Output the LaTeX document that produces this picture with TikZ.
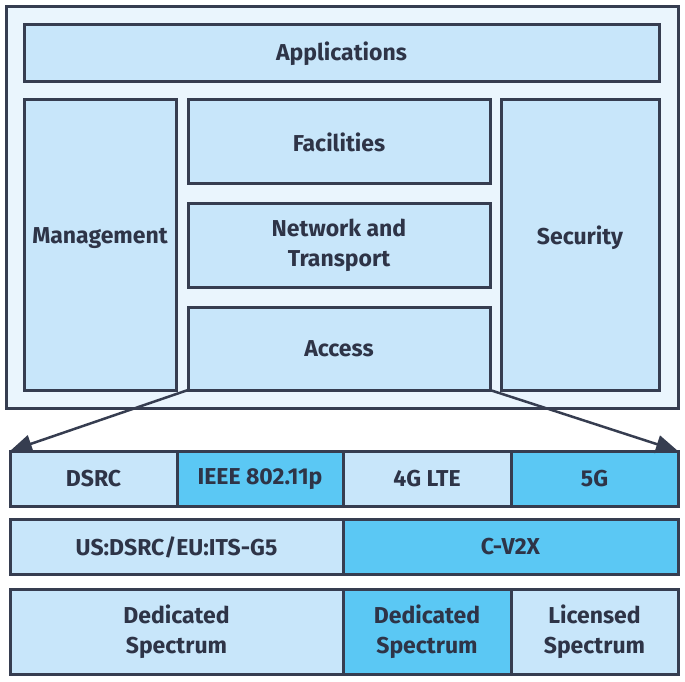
\documentclass[tikz,border=0pt]{standalone}
\usepackage{fontspec}
\setmainfont{Fira Sans}
\usetikzlibrary{arrows.meta}
\definecolor{bord}{HTML}{363D50}
\definecolor{txt}{HTML}{2E3447}
\definecolor{pale}{HTML}{EAF5FD}
\definecolor{lite}{HTML}{C8E6FA}
\definecolor{bright}{HTML}{5BC8F4}
\begin{document}
\begin{tikzpicture}[x=1pt,y=-1pt,
  box/.style={draw=bord,line width=3pt,fill=lite},
  bbox/.style={draw=bord,line width=3pt,fill=bright},
  lbl/.style={text=txt,font=\bfseries\fontsize{23}{30}\selectfont,align=center},
  conn/.style={draw=bord,line width=2.5pt,-{Triangle[length=22pt,width=18pt]}}]
\useasboundingbox (0,0) rectangle (685,681);
\draw[draw=bord,line width=3pt,fill=pale] (6.5,6.5) rectangle (678,408.5);
\draw[box] (24,24) rectangle (659,81);
\node[lbl] (app) at (341.5,53.5) {Applications};
\draw[box] (24,99) rectangle (176,390);
\node[lbl] (mgmt) at (100,238) {Management};
\draw[box] (188,99) rectangle (490,183);
\node[lbl] (fac) at (339,142) {Facilities};
\draw[box] (188,203) rectangle (490,287);
\node[lbl] (net) at (339,245) {Network and\\Transport};
\draw[box] (188,307) rectangle (490,390);
\coordinate (accbl) at (188,390);
\coordinate (accbr) at (490,390);
\node[lbl] (acc) at (339,349) {Access};
\draw[box] (501,99) rectangle (659,390);
\node[lbl] (sec) at (580,238) {Security};
% row 1
\draw[box] (10,451) rectangle (177,506);
\draw[bbox] (177,451) rectangle (343,506);
\draw[box] (343,451) rectangle (511,506);
\draw[bbox] (511,451) rectangle (678,506);
\coordinate (r1l) at (10,451);
\coordinate (r1r) at (678,451);
\node[lbl] (dsrc) at (93.5,479) {DSRC};
\node[lbl] (ieee) at (260,479) {IEEE 802.11p};
\node[lbl] (lte) at (427,479) {4G LTE};
\node[lbl] (fiveg) at (594.5,479) {5G};
% row 2
\draw[box] (10,519) rectangle (343,574);
\draw[bbox] (343,519) rectangle (678,574);
\node[lbl] (us) at (176.5,547) {US:DSRC/EU:ITS-G5};
\node[lbl] (cv) at (510.5,547) {C-V2X};
% row 3
\draw[box] (10,589) rectangle (343,674);
\draw[bbox] (343,589) rectangle (511,674);
\draw[box] (511,589) rectangle (678,674);
\node[lbl] (ded1) at (176.5,632) {Dedicated\\Spectrum};
\node[lbl] (ded2) at (427,632) {Dedicated\\Spectrum};
\node[lbl] (lic) at (594.5,632) {Licensed\\Spectrum};
% arrows
\draw[conn] (accbl) -- (r1l);
\draw[conn] (accbr) -- (r1r);
\end{tikzpicture}
\end{document}
